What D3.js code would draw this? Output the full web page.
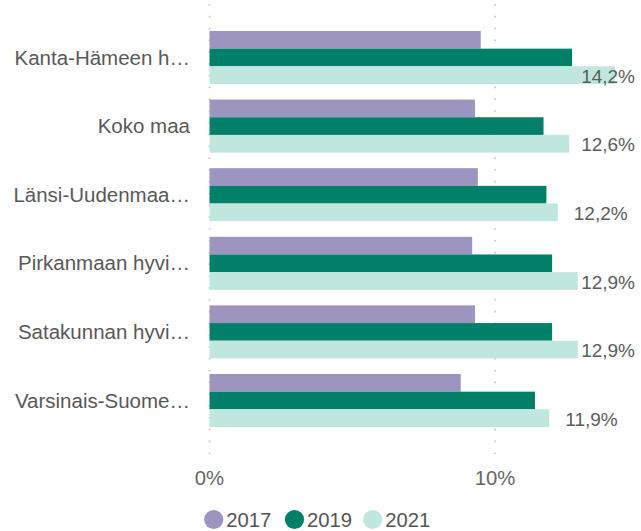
<!DOCTYPE html>
<html>
<head>
<meta charset="utf-8">
<script src="https://cdn.jsdelivr.net/npm/d3@7"></script>
<style>
  html, body { margin: 0; padding: 0; background: #fff; }
  svg { display: block; font-family: "Liberation Sans", Arial, sans-serif; }
</style>
</head>
<body>
<svg id="chart" width="641" height="531"></svg>
<script>
// Regions (truncated as shown on the axis)
const categories = [
  "Kanta-Hämeen h…",
  "Koko maa",
  "Länsi-Uudenmaa…",
  "Pirkanmaan hyvi…",
  "Satakunnan hyvi…",
  "Varsinais-Suome…"
];
const years = ["2017", "2019", "2021"];

// Share (%) per region, one array per year
const values2017 = [9.5, 9.3, 9.4, 9.2, 9.3, 8.8];
const values2019 = [12.7, 11.7, 11.8, 12.0, 12.0, 11.4];
const values2021 = [14.2, 12.6, 12.2, 12.9, 12.9, 11.9];

const xTicks = [0, 10];
const xTickLabels = ["0%", "10%"];

const colors = { "2017": "#9d94bf", "2019": "#008069", "2021": "#bfe7e0" };

const seriesByYear = { "2017": values2017, "2019": values2019, "2021": values2021 };

const svg = d3.select("#chart");

const x = d3.scaleLinear().domain([0, 10]).range([209.5, 495]);

const y = d3.scaleBand()
  .domain(categories)
  .range([23.2, 434.8])
  .paddingInner(0.227)
  .paddingOuter(0.1135);

const yInner = d3.scaleBand()
  .domain(years)
  .range([0, y.bandwidth()]);

// Dotted vertical gridlines
svg.append("g")
  .selectAll("line")
  .data(xTicks)
  .join("line")
  .attr("x1", d => x(d)).attr("x2", d => x(d))
  .attr("y1", 4).attr("y2", 462)
  .attr("stroke", "#c4c4c4")
  .attr("stroke-width", 1.6)
  .attr("stroke-dasharray", "1.6,10.2");

// Bars
const groups = svg.append("g")
  .selectAll("g")
  .data(categories)
  .join("g")
  .attr("transform", d => `translate(0,${y(d)})`);

groups.selectAll("rect")
  .data((d, i) => years.map(yr => ({ year: yr, value: seriesByYear[yr][i] })))
  .join("rect")
  .attr("x", x(0))
  .attr("y", d => yInner(d.year))
  .attr("width", d => x(d.value) - x(0))
  .attr("height", yInner.bandwidth())
  .attr("fill", d => colors[d.year]);

// Category labels
svg.append("g")
  .selectAll("text")
  .data(categories)
  .join("text")
  .attr("x", 190)
  .attr("y", d => y(d) + y.bandwidth() / 2)
  .attr("dy", "0.35em")
  .attr("text-anchor", "end")
  .attr("font-size", 20.5)
  .attr("fill", "#585858")
  .text(d => d);

// Value labels for the latest year, kept inside the canvas
const fmt = v => d3.format(".1f")(v).replace(".", ",") + "%";
const valueLabels = svg.append("g")
  .selectAll("text")
  .data(values2021)
  .join("text")
  .attr("y", (d, i) => y(categories[i]) + yInner("2021") + yInner.bandwidth() / 2 + 1)
  .attr("dy", "0.35em")
  .attr("font-size", 19)
  .attr("fill", "#5c5c5c")
  .text(d => fmt(d));
valueLabels.attr("x", function (d) {
  const w = this.getComputedTextLength();
  return Math.min(x(d) + 16, 635 - w);
});

// X axis tick labels
svg.append("g")
  .selectAll("text")
  .data(xTicks)
  .join("text")
  .attr("x", d => x(d))
  .attr("y", 485)
  .attr("text-anchor", "middle")
  .attr("font-size", 20.3)
  .attr("fill", "#666")
  .text((d, i) => xTickLabels[i]);

// Legend
const legendX = [213.7, 294.5, 372.7];
const legend = svg.append("g")
  .selectAll("g")
  .data(years)
  .join("g")
  .attr("transform", (d, i) => `translate(${legendX[i]},519.5)`);
legend.append("circle")
  .attr("r", 9.6)
  .attr("fill", d => colors[d]);
legend.append("text")
  .attr("x", 12.5)
  .attr("dy", "0.35em")
  .attr("font-size", 20.3)
  .attr("fill", "#555")
  .text(d => d);
</script>
</body>
</html>
